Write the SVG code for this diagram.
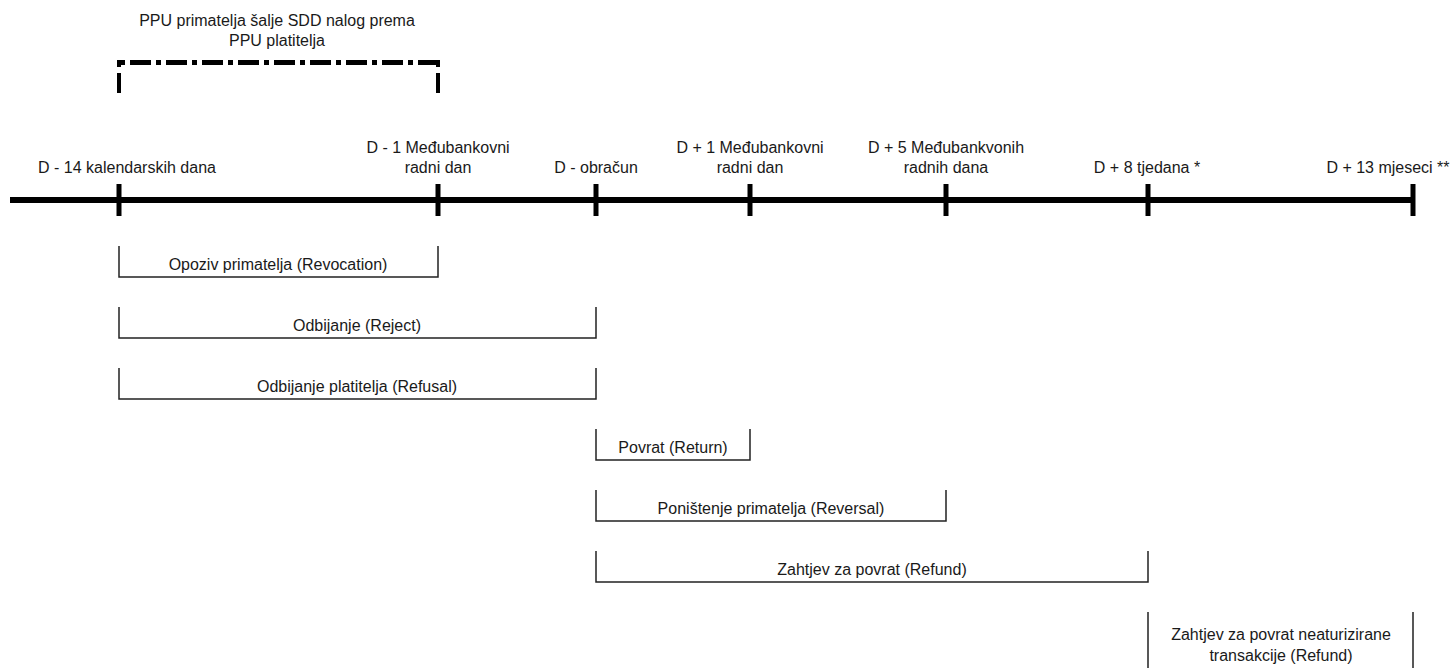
<svg xmlns="http://www.w3.org/2000/svg" width="1456" height="668" viewBox="0 0 1456 668">
<style>
text{font-family:"Liberation Sans",Arial,sans-serif;font-size:16px;fill:#1a1a1a;text-anchor:middle}
.axis{stroke:#000;stroke-width:6;fill:none}
.tick{stroke:#000;stroke-width:5;fill:none}
.br{stroke:#222;stroke-width:1.5;fill:none}
.dash{stroke:#000;stroke-width:5;fill:none;stroke-dasharray:5 5 21 5}
.dv{stroke:#000;stroke-width:4;fill:none}
</style>
<rect width="1456" height="668" fill="#fff"/>
<g id="send-window">
<line class="dash" x1="120" y1="62.5" x2="437" y2="62.5"/>
<path class="dv" d="M119 60 V67 M119 73 V93 M438 60 V67 M438 73 V93"/>
<text x="277" y="26">PPU primatelja šalje SDD nalog prema</text>
<text x="277" y="46">PPU platitelja</text>
</g>
<g id="timeline">
<line class="axis" x1="10" y1="200" x2="1413" y2="200"/>
<line class="tick" x1="119" y1="184" x2="119" y2="216"/>
<line class="tick" x1="438" y1="184" x2="438" y2="216"/>
<line class="tick" x1="596" y1="184" x2="596" y2="216"/>
<line class="tick" x1="750" y1="184" x2="750" y2="216"/>
<line class="tick" x1="946" y1="184" x2="946" y2="216"/>
<line class="tick" x1="1148" y1="184" x2="1148" y2="216"/>
<line class="tick" x1="1413" y1="184" x2="1413" y2="216"/>
</g>
<g id="labels">
<text x="127" y="173">D - 14 kalendarskih dana</text>
<text x="438" y="153">D - 1 Međubankovni</text>
<text x="438" y="173">radni dan</text>
<text x="596" y="173">D - obračun</text>
<text x="750" y="153">D + 1 Međubankovni</text>
<text x="750" y="173">radni dan</text>
<text x="946" y="153">D + 5 Međubankvonih</text>
<text x="946" y="173">radnih dana</text>
<text x="1147" y="173">D + 8 tjedana *</text>
<text x="1388" y="173">D + 13 mjeseci **</text>
</g>
<g id="connectors">
<g id="revocation"><path class="br" d="M119 246 V277 H438 V246"/><text x="278" y="270">Opoziv primatelja (Revocation)</text></g>
<g id="reject"><path class="br" d="M119 307 V338 H596 V307"/><text x="357" y="331">Odbijanje (Reject)</text></g>
<g id="refusal"><path class="br" d="M119 368 V399 H596 V368"/><text x="357" y="392">Odbijanje platitelja (Refusal)</text></g>
<g id="return"><path class="br" d="M596 429 V460 H750 V429"/><text x="673" y="453">Povrat (Return)</text></g>
<g id="reversal"><path class="br" d="M596 490 V521 H946 V490"/><text x="771" y="514">Poništenje primatelja (Reversal)</text></g>
<g id="refund"><path class="br" d="M596 551 V582 H1148 V551"/><text x="872" y="575">Zahtjev za povrat (Refund)</text></g>
<g id="refund-unauth"><path class="br" d="M1148 612 V680 M1413 612 V680"/><text x="1281" y="640">Zahtjev za povrat neaturizirane</text><text x="1281" y="661">transakcije (Refund)</text></g>
</g>
</svg>
